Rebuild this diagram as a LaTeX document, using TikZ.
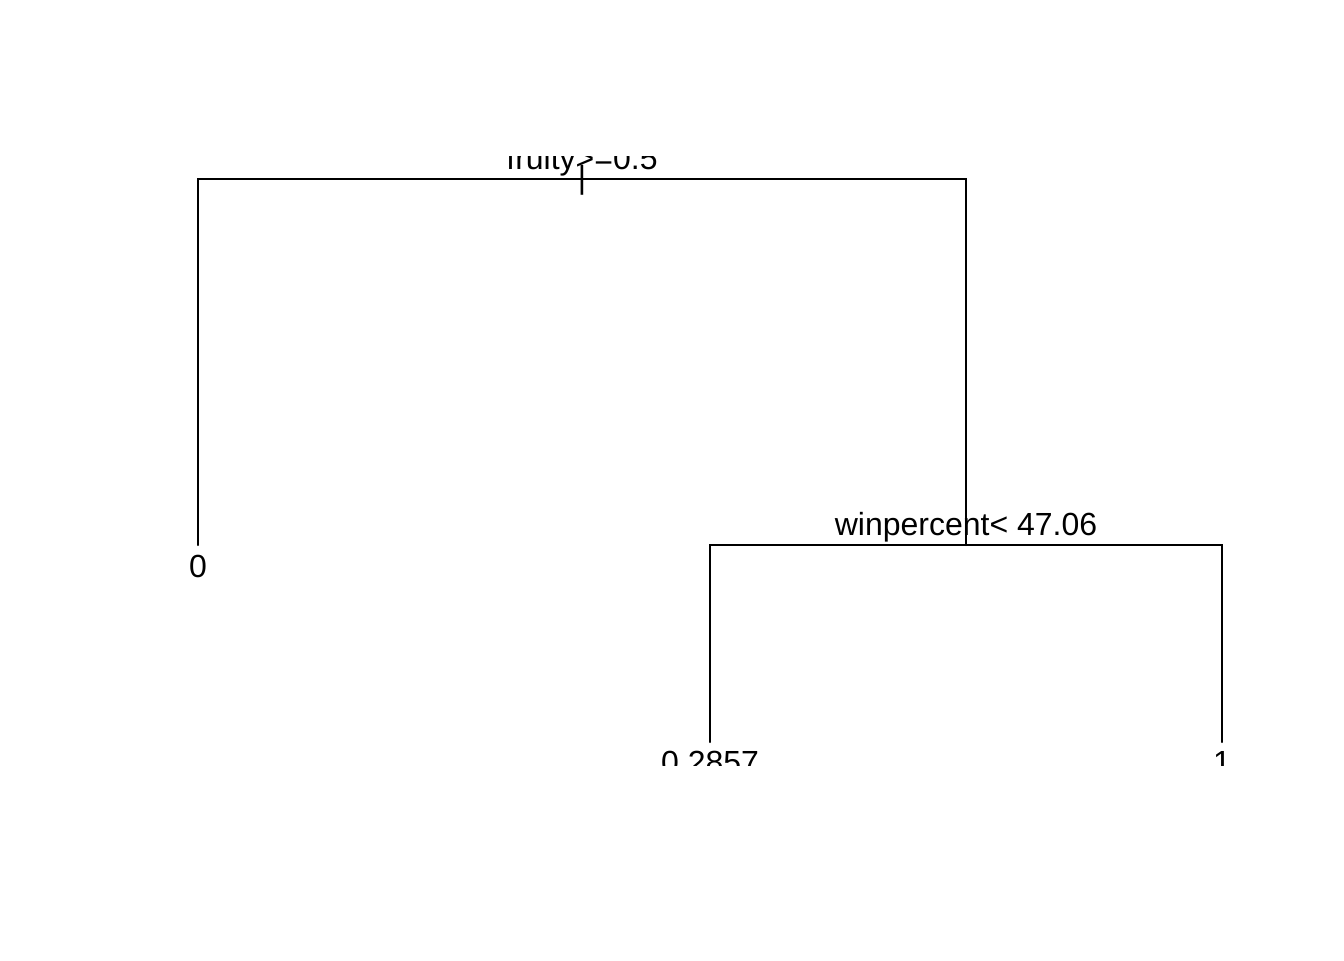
\documentclass[tikz,border=0pt]{standalone}
\usepackage{fontspec}
\setmainfont{Liberation Sans}
\begin{document}
\begin{tikzpicture}[x=0.5pt,y=-0.5pt,
  lbl/.style={inner sep=0pt,anchor=base,font=\fontsize{16}{19}\selectfont},
  edge/.style={line width=1pt,line cap=round}]
\useasboundingbox (0,0) rectangle (1344,960);
\coordinate (root) at (582,179);
\coordinate (rootL) at (198,179);
\coordinate (rootR) at (966,179);
\coordinate (leaf0) at (198,545);
\coordinate (split2) at (966,545);
\coordinate (s2L) at (710,545);
\coordinate (s2R) at (1222,545);
\coordinate (leafA) at (710,742);
\coordinate (leafB) at (1222,742);
\draw[edge] (leaf0) -- (rootL) -- (rootR) -- (split2);
\draw[edge] (leafA) -- (s2L) -- (s2R) -- (leafB);
\begin{scope}
\clip (0,156) rectangle (1344,765);
\node[lbl] (t1) at (582,169) {fruity>=0.5};
\node[lbl] (bar) at (582,188) {|};
\node[lbl] (t2) at (966,535) {winpercent< 47.06};
\node[lbl] (l0) at (198,577) {0};
\node[lbl] (lA) at (710,773) {0.2857};
\node[lbl] (lB) at (1222,773) {1};
\end{scope}
\end{tikzpicture}
\end{document}
